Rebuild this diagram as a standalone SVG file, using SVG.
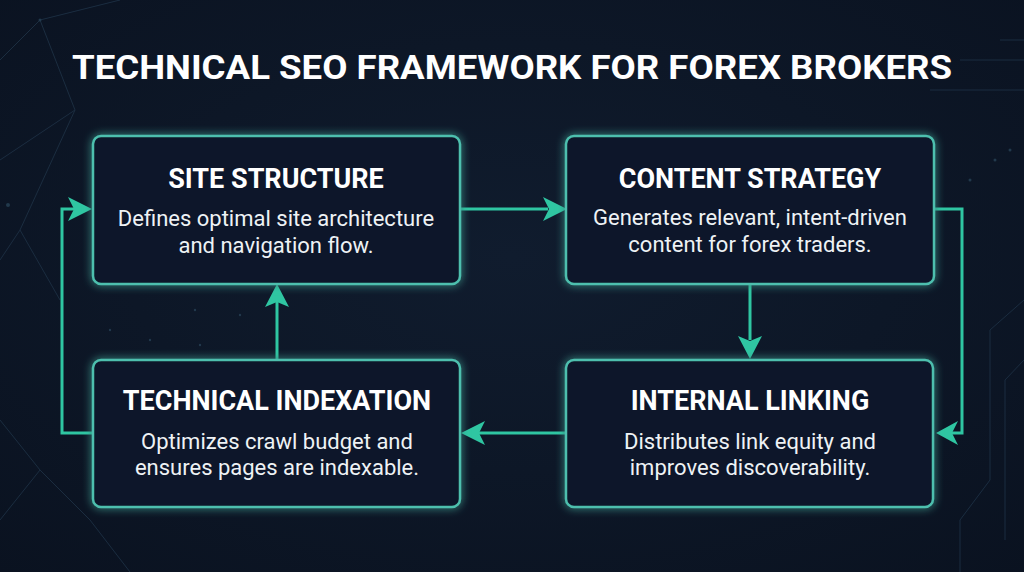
<svg xmlns="http://www.w3.org/2000/svg" width="1024" height="572" viewBox="0 0 1024 572">
<defs>
<radialGradient id="bg" cx="50%" cy="45%" r="75%">
<stop offset="0" stop-color="#101c2e"/>
<stop offset="1" stop-color="#0a1220"/>
</radialGradient>
<filter id="glow" x="-10%" y="-15%" width="120%" height="130%">
<feGaussianBlur stdDeviation="4" result="b"/>
<feMerge><feMergeNode in="b"/><feMergeNode in="SourceGraphic"/></feMerge>
</filter>
<style>
.box{fill:#0e1829;stroke:#4dbfae;stroke-width:2.5}
.title{font-family:Roboto,"Liberation Sans",sans-serif;font-weight:700;font-size:27px;fill:#ffffff;text-anchor:middle}
.desc{font-family:Roboto,"Liberation Sans",sans-serif;font-size:22px;fill:#eef2f5;text-anchor:middle}
.conn{fill:none;stroke:#2fc6a2;stroke-width:3}
.head{fill:#2fc6a2}
.deco{fill:none;stroke:#1b2d40;stroke-width:1}
.dot{fill:#22394c}
</style>
</defs>
<rect width="1024" height="572" fill="url(#bg)"/>
<g id="background">
<path class="deco" d="M0,60 L40,20 L75,110 L0,160 M40,20 L120,0 M75,110 L20,230 L0,260 M20,230 L60,300 M0,420 L40,470 L90,520 L130,572 M40,470 L0,520"/>
<path class="deco" d="M1000,40 L1024,40 M960,60 L1024,60 M930,90 L1024,90 M1024,300 L990,330 L990,480 L960,520 L960,572 M1024,360 L1005,380 L1005,540"/>
<circle class="dot" cx="8" cy="205" r="2"/>
<circle class="dot" cx="40" cy="20" r="1.5"/>
<circle class="dot" cx="1010" cy="150" r="1.5"/>
<circle class="dot" cx="995" cy="160" r="1.5"/>
<circle class="dot" cx="970" cy="180" r="1.5"/>
<circle class="dot" cx="110" cy="330" r="1.2"/>
<circle class="dot" cx="150" cy="340" r="1.2"/>
<circle class="dot" cx="200" cy="345" r="1.2"/>
<circle class="dot" cx="240" cy="315" r="1.2"/>
<circle class="dot" cx="195" cy="310" r="1.2"/>
</g>
<text x="512" y="79" font-family="Roboto,'Liberation Sans',sans-serif" font-weight="700" font-size="34" fill="#ffffff" text-anchor="middle" textLength="880" lengthAdjust="spacingAndGlyphs">TECHNICAL SEO FRAMEWORK FOR FOREX BROKERS</text>
<g id="connectors">
<path class="conn" d="M460,209 L548,209"/>
<path class="head" d="M543,197 L567,209 L543,221 L549,209 Z"/>
<path class="conn" d="M934,209 L962,209 L962,433 L952,433"/>
<path class="head" d="M958,421 L936,433 L958,445 L952,433 Z"/>
<path class="conn" d="M750,284 L750,340"/>
<path class="head" d="M738,336 L750,359 L762,336 L750,341 Z"/>
<path class="conn" d="M566,433 L478,433"/>
<path class="head" d="M485,421 L461,433 L485,445 L479,433 Z"/>
<path class="conn" d="M277,360 L277,302"/>
<path class="head" d="M265,307 L277,284 L289,307 L277,302 Z"/>
<path class="conn" d="M93,433 L62,433 L62,209 L74,209"/>
<path class="head" d="M68,197 L92,209 L68,221 L74,209 Z"/>
</g>
<g id="site-structure">
<rect class="box" x="93" y="136" width="367" height="148" rx="8" filter="url(#glow)"/>
<text class="title" x="276" y="188">SITE STRUCTURE</text>
<text class="desc" x="276" y="226">Defines optimal site architecture</text>
<text class="desc" x="276" y="253">and navigation flow.</text>
</g>
<g id="content-strategy">
<rect class="box" x="566" y="136" width="368" height="148" rx="8" filter="url(#glow)"/>
<text class="title" x="750" y="188">CONTENT STRATEGY</text>
<text class="desc" x="750" y="225">Generates relevant, intent-driven</text>
<text class="desc" x="750" y="252">content for forex traders.</text>
</g>
<g id="technical-indexation">
<rect class="box" x="93" y="360" width="367" height="147" rx="8" filter="url(#glow)"/>
<text class="title" x="277" y="410">TECHNICAL INDEXATION</text>
<text class="desc" x="277" y="449">Optimizes crawl budget and</text>
<text class="desc" x="277" y="475">ensures pages are indexable.</text>
</g>
<g id="internal-linking">
<rect class="box" x="566" y="360" width="367" height="147" rx="8" filter="url(#glow)"/>
<text class="title" x="750" y="410">INTERNAL LINKING</text>
<text class="desc" x="750" y="449">Distributes link equity and</text>
<text class="desc" x="750" y="475">improves discoverability.</text>
</g>
</svg>
